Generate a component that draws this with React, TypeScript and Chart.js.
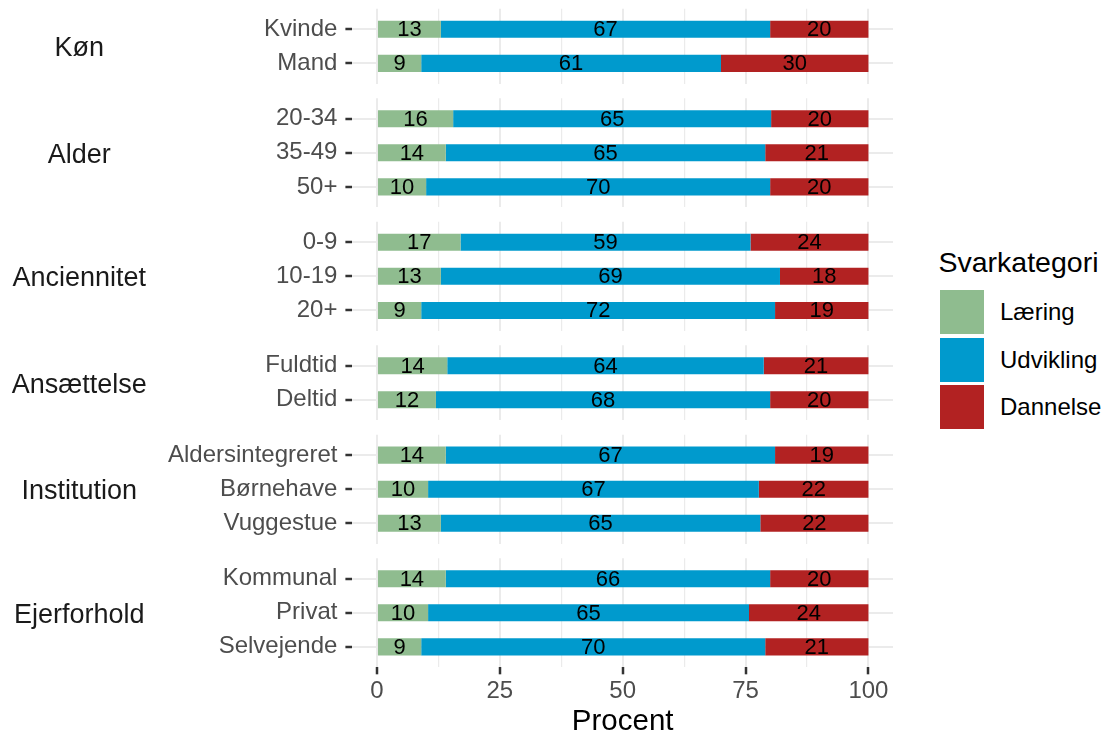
import React, { useEffect, useRef } from "react";
import { Chart, registerables } from "chart.js";

Chart.register(...registerables);

// ---------- data ----------
const seriesNames = ["Læring", "Udvikling", "Dannelse"];
const seriesColors = ["#8FBC8F", "#009ACD", "#B22222"];

const facetNames = ["Køn", "Alder", "Anciennitet", "Ansættelse", "Institution", "Ejerforhold"];
const groupLabels = [
  ["Kvinde", "Mand"],
  ["20-34", "35-49", "50+"],
  ["0-9", "10-19", "20+"],
  ["Fuldtid", "Deltid"],
  ["Aldersintegreret", "Børnehave", "Vuggestue"],
  ["Kommunal", "Privat", "Selvejende"],
];
const laering = [[13, 9], [15.5, 14, 10], [17, 13, 9], [14.3, 12], [14, 10.4, 13], [14, 10.4, 9]];
const udvikling = [[67, 61], [64.7, 65, 70], [59, 69, 72], [64.4, 68], [67, 67.3, 65], [66, 65.3, 70]];
const dannelse = [[20, 30], [19.8, 21, 20], [24, 18, 19], [21.3, 20], [19, 22.3, 22], [20, 24.3, 21]];

const xMajorTicks = [0, 25, 50, 75, 100];
const xMinorTicks = [12.5, 37.5, 62.5, 87.5];
const xTitle = "Procent";
const legendTitle = "Svarkategori";

// ---------- layout / style ----------
const FONT = "'Liberation Sans', Arial, Helvetica, sans-serif";
const W = 1110;
const H = 733;
const CANVAS_W = 900;
const PANEL_L = 352.4;
const PANEL_R = 893;
const ROW = 34.1;
const PANEL_GAP = 14.4;
const FIRST_TOP = 8.8;
const EXPAND = 0.6;
const STRIP_X = 79.2;
const GRID = "#EBEBEB";
const TICK_COL = "#333333";
const TEXT_GREY = "#4D4D4D";

const isMajor = (v: number) => xMajorTicks.includes(v);

const valueLabelPlugin = {
  id: "valueLabels",
  afterDatasetsDraw(chart: any) {
    const ctx = chart.ctx;
    ctx.save();
    ctx.font = `22px ${FONT}`;
    ctx.fillStyle = "#000000";
    ctx.textAlign = "center";
    ctx.textBaseline = "middle";
    chart.data.datasets.forEach((ds: any, i: number) => {
      const meta = chart.getDatasetMeta(i);
      meta.data.forEach((el: any, j: number) => {
        const p = el.getProps(["x", "base", "y"], true);
        const v = ds.data[j].x;
        ctx.fillText(String(Math.round(v)), (p.x + p.base) / 2, p.y + 1);
      });
    });
    ctx.restore();
  },
};

const makeStripPlugin = (text: string) => ({
  id: "stripLabel",
  afterDraw(chart: any) {
    const { ctx, chartArea } = chart;
    ctx.save();
    ctx.font = `27px ${FONT}`;
    ctx.fillStyle = "#1A1A1A";
    ctx.textAlign = "center";
    ctx.textBaseline = "middle";
    ctx.fillText(text, STRIP_X, (chartArea.top + chartArea.bottom) / 2 + 2.5);
    ctx.restore();
  },
});

function Panel({ index, panelTop, panelBottom, isLast }: { index: number; panelTop: number; panelBottom: number; isLast: boolean }) {
  const ref = useRef<HTMLCanvasElement>(null);
  const canvasTop = Math.floor(panelTop);
  const canvasBottom = isLast ? H : Math.ceil(panelBottom);
  const canvasH = canvasBottom - canvasTop;
  const padTop = panelTop - canvasTop;
  const padBottom = isLast ? 0 : canvasBottom - panelBottom;
  const axisH = isLast ? H - panelBottom : 0;

  useEffect(() => {
    const labels = groupLabels[index];
    const n = labels.length;
    const values = [laering[index], udvikling[index], dannelse[index]];
    const chart = new Chart(ref.current as HTMLCanvasElement, {
      type: "bar",
      data: {
        datasets: seriesNames.map((name, s) => ({
          label: name,
          data: values[s].map((v, i) => ({ x: v, y: i })),
          backgroundColor: seriesColors[s],
          borderWidth: 0,
          categoryPercentage: 1,
          barPercentage: 0.5,
        })),
      } as any,
      options: {
        indexAxis: "y",
        animation: false,
        responsive: false,
        maintainAspectRatio: false,
        events: [],
        layout: { padding: { left: 0, right: CANVAS_W - PANEL_R, top: padTop, bottom: padBottom } },
        plugins: {
          legend: { display: false },
          tooltip: { enabled: false },
          title: { display: false },
        },
        scales: {
          x: {
            type: "linear",
            stacked: true,
            offset: false,
            min: -5,
            max: 105,
            afterBuildTicks: (s: any) => {
              s.ticks = [...xMajorTicks, ...xMinorTicks].sort((a, b) => a - b).map((v) => ({ value: v }));
            },
            afterFit: (s: any) => {
              s.paddingLeft = 0;
              s.paddingRight = 0;
              s.height = axisH;
            },
            grid: {
              offset: false,
              color: GRID,
              lineWidth: (c: any) => (c.tick && isMajor(c.tick.value) ? 2 : 1.2),
              drawTicks: isLast,
              tickLength: 7,
              tickWidth: 2.5,
              tickColor: (c: any) => (c.tick && isMajor(c.tick.value) ? TICK_COL : "rgba(0,0,0,0)"),
            },
            border: { display: false },
            ticks: {
              display: isLast,
              autoSkip: false,
              maxRotation: 0,
              padding: 3,
              color: TEXT_GREY,
              font: { family: FONT, size: 24 },
              callback: (v: any) => (isMajor(Number(v)) ? String(v) : ""),
            },
            title: {
              display: isLast,
              text: xTitle,
              color: "#000000",
              font: { family: FONT, size: 29.5, lineHeight: 0.75 },
              padding: 0,
            },
          },
          y: {
            type: "linear",
            stacked: true,
            reverse: true,
            offset: false,
            min: -EXPAND,
            max: n - 1 + EXPAND,
            afterBuildTicks: (s: any) => {
              s.ticks = labels.map((_, i) => ({ value: i }));
            },
            afterFit: (s: any) => {
              s.width = PANEL_L;
              s.paddingTop = 0;
              s.paddingBottom = 0;
            },
            grid: {
              offset: false,
              color: GRID,
              lineWidth: 2,
              drawTicks: true,
              tickLength: 7,
              tickWidth: 2.5,
              tickColor: TICK_COL,
            },
            border: { display: false },
            ticks: {
              autoSkip: false,
              padding: 8,
              color: TEXT_GREY,
              font: { family: FONT, size: 24 },
              callback: (v: any) => labels[Number(v)] ?? "",
            },
          },
        },
      } as any,
      plugins: [valueLabelPlugin, makeStripPlugin(facetNames[index])],
    });
    return () => chart.destroy();
  }, []);

  return (
    <canvas
      ref={ref}
      width={CANVAS_W}
      height={canvasH}
      style={{ position: "absolute", left: 0, top: canvasTop, width: CANVAS_W, height: canvasH }}
    />
  );
}

function Legend() {
  const keyTops = [290, 337.5, 385];
  return (
    <>
      <div
        style={{
          position: "absolute",
          left: 938.5,
          top: 248,
          fontFamily: FONT,
          fontSize: 28.5,
          lineHeight: "28.5px",
          color: "#000",
          whiteSpace: "nowrap",
        }}
      >
        {legendTitle}
      </div>
      {seriesNames.map((name, i) => (
        <React.Fragment key={name}>
          <div
            style={{
              position: "absolute",
              left: 940,
              top: keyTops[i],
              width: 43.5,
              height: 44,
              background: seriesColors[i],
            }}
          />
          <div
            style={{
              position: "absolute",
              left: 1000,
              top: keyTops[i],
              height: 44,
              display: "flex",
              alignItems: "center",
              fontFamily: FONT,
              fontSize: 24,
              color: "#000",
              whiteSpace: "nowrap",
            }}
          >
            {name}
          </div>
        </React.Fragment>
      ))}
    </>
  );
}

export default function App() {
  const panels: { top: number; bottom: number }[] = [];
  let y = FIRST_TOP;
  groupLabels.forEach((g) => {
    const h = (g.length - 1 + 2 * EXPAND) * ROW;
    panels.push({ top: y, bottom: y + h });
    y += h + PANEL_GAP;
  });

  return (
    <div
      style={{
        position: "absolute",
        left: 0,
        top: 0,
        width: W,
        height: H,
        overflow: "hidden",
        background: "#ffffff",
      }}
    >
      {panels.map((p, i) => (
        <Panel key={i} index={i} panelTop={p.top} panelBottom={p.bottom} isLast={i === panels.length - 1} />
      ))}
      <Legend />
    </div>
  );
}
